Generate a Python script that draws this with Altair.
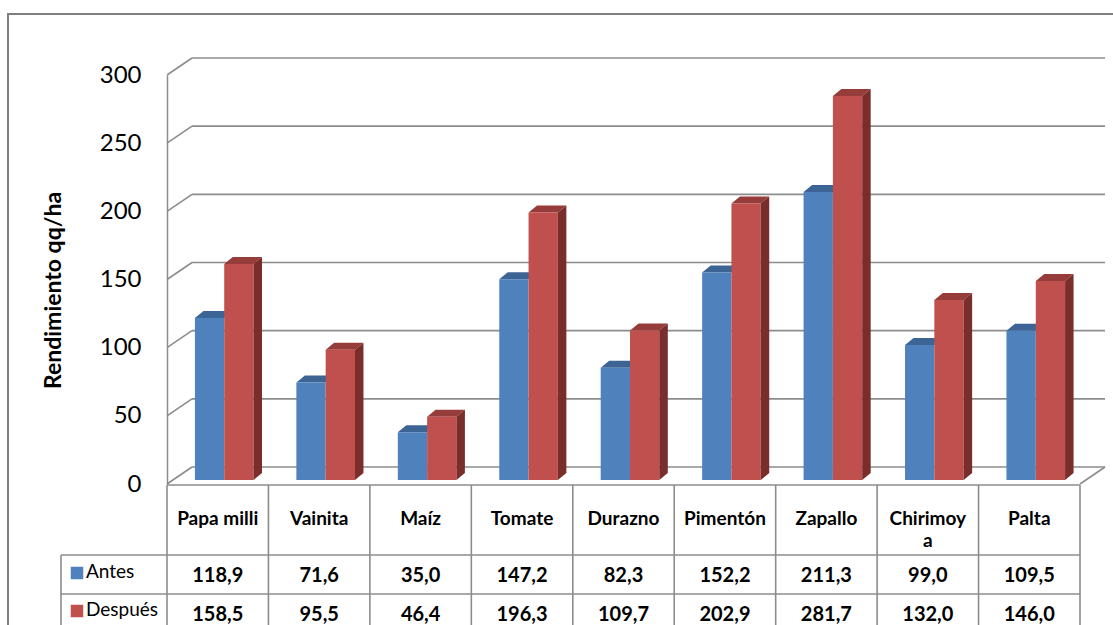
import altair as alt
import pandas as pd

# ---------------- data ----------------
categories = ["Papa milli", "Vainita", "Maíz", "Tomate", "Durazno",
              "Pimentón", "Zapallo", "Chirimoya", "Palta"]
antes = [118.9, 71.6, 35.0, 147.2, 82.3, 152.2, 211.3, 99.0, 109.5]
despues = [158.5, 95.5, 46.4, 196.3, 109.7, 202.9, 281.7, 132.0, 146.0]
series_names = ["Antes", "Después"]
y_ticks = [0, 50, 100, 150, 200, 250, 300]
y_title = "Rendimiento qq/ha"
wrapped_labels = {"Chirimoya": "Chirimoy\na"}

# ---------------- layout / style ----------------
PAD_L, PAD_T = 167, 75
W, H = 913, 409
N = len(categories)
COL = W / N                 # px per category unit
PPU = H / 300.0             # px per value unit

FRONT = {"Antes": "#4F81BD", "Después": "#C0504D"}
TOPC = {"Antes": "#3C6595", "Después": "#963C3A"}
SIDEC = {"Antes": "#2F5178", "Después": "#7A2E2C"}
GRID = "#8C8C8C"
FONT = "Lato"

wall_dx, wall_dy = 25 / COL, 17 / PPU
bar_w, bar_off = 29.3 / COL, 6.5 / COL
bar_dx, bar_dy = 8.5 / COL, 7 / PPU
bar_base = 4 / PPU

xs = alt.Scale(domain=[0, N], nice=False, zero=False)
ys = alt.Scale(domain=[0, 300], nice=False, zero=False)
yaxis = alt.Axis(values=y_ticks, grid=False, ticks=False, domain=True,
                 domainColor=GRID, domainWidth=1.5,
                 labelFont=FONT, labelFontSize=24, labelColor="#000000",
                 labelPadding=26,
                 title=y_title, titleFont=FONT, titleFontSize=23,
                 titleFontWeight="bold", titleColor="#000000",
                 titleAngle=270, titleX=-107, titleY=215,
                 titleAlign="center", titleBaseline="alphabetic")


def X(f):
    return alt.X(f, type="quantitative", scale=xs, axis=None)


def X2(f):
    return alt.X2(f)


def Y(f):
    return alt.Y(f, type="quantitative", scale=ys, axis=yaxis, stack=None)


# ---------------- geometry tables ----------------
vals = {"Antes": antes, "Después": despues}
fronts, tops, sides = [], [], []
for i, c in enumerate(categories):
    for s_i, s in enumerate(series_names):
        v = vals[s][i]
        x0 = i + 0.5 + bar_off - bar_w + s_i * bar_w
        x1 = x0 + bar_w
        top = v + bar_base
        bid = f"{i}-{s_i}"
        fronts.append(dict(cat=c, series=s, x0=x0, x1=x1, y0=bar_base, y1=top,
                           fill=FRONT[s]))
        for (xx, ya, yb) in [(x0, top, top), (x0 + bar_dx, top, top + bar_dy),
                             (x1, top, top + bar_dy),
                             (x1 + bar_dx, top + bar_dy, top + bar_dy)]:
            tops.append(dict(bar=bid, x=xx, y=ya, y2=yb, fill=TOPC[s]))
        if s_i == len(series_names) - 1:
            for (xx, ya, yb) in [(x1, bar_base, top),
                                 (x1 + bar_dx, bar_base + bar_dy, top + bar_dy)]:
                sides.append(dict(bar=bid, x=xx, y=ya, y2=yb, fill=SIDEC[s]))

df_front = pd.DataFrame(fronts)
df_top = pd.DataFrame(tops)
df_side = pd.DataFrame(sides)

# gridlines on back wall + left wall diagonals
grid_rows = []
for v in y_ticks:
    grid_rows.append(dict(x=wall_dx, x2=N + wall_dx, y=v + wall_dy, y2=v + wall_dy))
    grid_rows.append(dict(x=0, x2=wall_dx, y=v, y2=v + wall_dy))
grid_rows.append(dict(x=N, x2=N + wall_dx, y=0, y2=wall_dy))
df_grid = pd.DataFrame(grid_rows)

# ---------------- layers ----------------
frame = alt.Chart(pd.DataFrame({"k": [0]})).mark_rect(
    fill="white", fillOpacity=0, stroke="#7F7F7F", strokeWidth=2
).encode(x=alt.value(8 - PAD_L), x2=alt.value(1113 - PAD_L + 20),
         y=alt.value(14 - PAD_T), y2=alt.value(625 - PAD_T + 20))

grid = alt.Chart(df_grid).mark_rule(color=GRID, strokeWidth=1.6).encode(
    x=X("x"), x2=X2("x2"), y=Y("y"), y2=alt.Y2("y2"))

top_layer = alt.Chart(df_top).mark_area(orient="vertical", strokeWidth=0).encode(
    x=X("x"), y=Y("y"), y2=alt.Y2("y2"),
    fill=alt.Fill("fill:N", scale=None), detail="bar:N")

front_layer = alt.Chart(df_front).mark_rect(strokeWidth=0).encode(
    x=X("x0"), x2=X2("x1"), y=Y("y0"), y2=alt.Y2("y1"),
    fill=alt.Fill("fill:N", scale=None))

side_layer = alt.Chart(df_side).mark_area(orient="vertical", strokeWidth=0).encode(
    x=X("x"), y=Y("y"), y2=alt.Y2("y2"),
    fill=alt.Fill("fill:N", scale=None), detail="bar:N")

# ---------------- data table ----------------
ROW_TOP, ROW_A, ROW_D, ROW_END = 410, 480, 519, 570
LEG_LEFT = 61 - PAD_L

df_cols = pd.DataFrame({"b": list(range(N + 1))})
col_lines = alt.Chart(df_cols).mark_rule(color=GRID, strokeWidth=1.6).encode(
    x=X("b"), y=alt.value(ROW_TOP), y2=alt.value(ROW_END))

hlines = alt.Chart(pd.DataFrame({
    "x": [0, LEG_LEFT, LEG_LEFT], "x2": [W, W, W], "y": [ROW_TOP, ROW_A, ROW_D]
})).mark_rule(color=GRID, strokeWidth=1.6).encode(
    x=alt.X("x:Q", scale=None, axis=None), x2="x2:Q",
    y=alt.Y("y:Q", scale=None, axis=None))

leg_left = alt.Chart(pd.DataFrame({"k": [0]})).mark_rule(
    color=GRID, strokeWidth=1.6).encode(
    x=alt.value(LEG_LEFT), y=alt.value(ROW_A), y2=alt.value(ROW_END))

df_cat = pd.DataFrame({"c": [i + 0.5 for i in range(N)],
                       "label": [wrapped_labels.get(c, c) for c in categories]})
cat_text = alt.Chart(df_cat).mark_text(
    font=FONT, fontSize=19, fontWeight="bold", color="#000000",
    baseline="alphabetic", lineBreak="\n", lineHeight=22
).encode(x=X("c"), y=alt.value(450), text="label:N")


def fmt(v):
    return f"{v:.1f}".replace(".", ",")


val_layers = []
for s, ypos in zip(series_names, [507, 546]):
    d = pd.DataFrame({"c": [i + 0.5 for i in range(N)],
                      "t": [fmt(v) for v in vals[s]]})
    val_layers.append(alt.Chart(d).mark_text(
        font=FONT, fontSize=20, fontWeight="bold", color="#000000",
        baseline="alphabetic").encode(x=X("c"), y=alt.value(ypos), text="t:N"))

df_leg = pd.DataFrame({"s": series_names, "fill": [FRONT[s] for s in series_names],
                       "ys": [498, 536], "yt": [503, 541]})
leg_sq = alt.Chart(df_leg).mark_square(size=156, opacity=1, filled=True).encode(
    x=alt.value(-90), y=alt.Y("ys:Q", scale=None, axis=None),
    fill=alt.Fill("fill:N", scale=None))
leg_txt = alt.Chart(df_leg).mark_text(
    font=FONT, fontSize=19, color="#000000", align="left", baseline="alphabetic"
).encode(x=alt.value(-81), y=alt.Y("yt:Q", scale=None, axis=None), text="s:N")

chart = alt.layer(
    frame, grid, top_layer, front_layer, side_layer,
    col_lines, hlines, leg_left, cat_text, *val_layers, leg_sq, leg_txt
).properties(
    width=W, height=H,
    padding={"left": PAD_L, "top": PAD_T, "right": 1113 - PAD_L - W,
             "bottom": 625 - PAD_T - H},
    autosize=alt.AutoSizeParams(type="none"),
    background="white",
).configure_view(stroke=None)

chart.save("out.html", embed_options={"renderer": "svg", "actions": False})
